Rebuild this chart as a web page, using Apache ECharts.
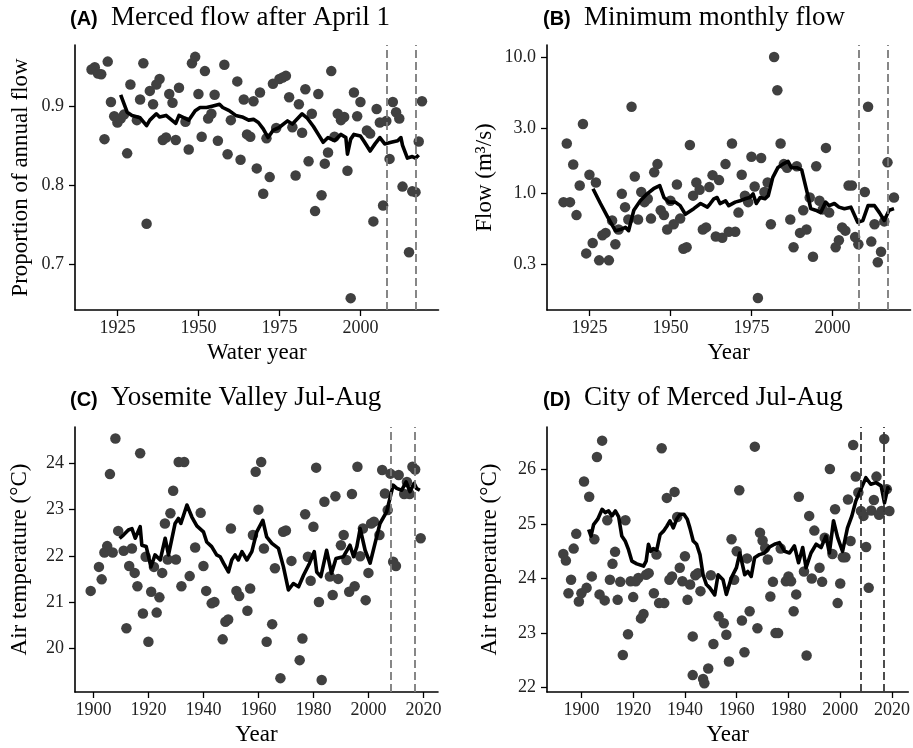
<!DOCTYPE html>
<html><head><meta charset="utf-8">
<script src="https://cdn.jsdelivr.net/npm/echarts@6/dist/echarts.min.js"></script>
<style>html,body{margin:0;padding:0;background:#fff}#c{width:913px;height:748px}</style>
</head><body><div id="c"></div>
<script>
// ---------- DATA ----------
// (A) proportion of annual flow after April 1: [water year, proportion]
const flowAfterApril = [[1917,0.946],[1918,0.949],[1919,0.941],[1920,0.940],[1921,0.858],[1922,0.956],[1923,0.905],[1924,0.887],[1925,0.879],[1926,0.884],[1927,0.889],[1928,0.840],[1929,0.927],[1931,0.882],[1932,0.908],[1933,0.954],[1934,0.751],[1935,0.919],[1936,0.902],[1937,0.927],[1938,0.934],[1939,0.857],[1940,0.860],[1941,0.915],[1942,0.904],[1943,0.857],[1944,0.923],[1946,0.880],[1947,0.845],[1948,0.954],[1949,0.962],[1950,0.915],[1951,0.861],[1952,0.944],[1953,0.884],[1954,0.890],[1955,0.914],[1956,0.856],[1958,0.952],[1959,0.839],[1960,0.882],[1962,0.931],[1963,0.832],[1964,0.908],[1965,0.864],[1966,0.861],[1967,0.906],[1968,0.821],[1969,0.917],[1970,0.789],[1971,0.859],[1972,0.810],[1973,0.928],[1974,0.872],[1975,0.934],[1976,0.936],[1977,0.938],[1978,0.911],[1979,0.873],[1980,0.812],[1981,0.902],[1982,0.866],[1983,0.921],[1984,0.830],[1985,0.890],[1986,0.767],[1987,0.915],[1988,0.787],[1989,0.827],[1990,0.841],[1991,0.944],[1992,0.861],[1993,0.890],[1994,0.882],[1995,0.886],[1996,0.818],[1997,0.657],[1998,0.917],[1999,0.887],[2000,0.905],[2002,0.869],[2003,0.865],[2004,0.754],[2005,0.896],[2006,0.879],[2007,0.774],[2008,0.881],[2009,0.833],[2010,0.905],[2011,0.892],[2012,0.884],[2013,0.798],[2015,0.715],[2016,0.792],[2017,0.791],[2018,0.855],[2019,0.906]];
const flowAfterAprilMean = [[1926,0.914],[1928,0.892],[1929.5,0.888],[1932,0.885],[1934,0.875],[1935,0.882],[1937,0.890],[1938,0.886],[1940,0.888],[1943,0.878],[1944,0.888],[1947,0.882],[1949,0.894],[1950.5,0.898],[1952.5,0.898],[1954.5,0.900],[1956.5,0.902],[1957.5,0.898],[1959.5,0.894],[1961.5,0.888],[1963.5,0.886],[1965.5,0.882],[1967,0.883],[1968.5,0.879],[1970,0.871],[1971.5,0.860],[1973,0.869],[1975,0.873],[1977.5,0.881],[1979,0.877],[1982,0.890],[1983.5,0.885],[1985.5,0.874],[1987,0.864],[1988.5,0.854],[1990,0.860],[1992,0.856],[1994,0.864],[1995.5,0.860],[1996,0.839],[1997,0.858],[1998,0.864],[2000,0.862],[2001,0.856],[2003,0.843],[2004.5,0.852],[2006,0.860],[2007.5,0.852],[2009.5,0.854],[2011.5,0.856],[2012.5,0.860],[2013,0.850],[2014.5,0.834],[2016,0.836],[2017,0.834],[2018,0.838]];

// (B) minimum monthly flow, m3/s: [year, flow]
const minFlow = [[1917,0.86],[1918,2.33],[1919,0.86],[1920,1.63],[1921,0.69],[1922,1.14],[1923,3.24],[1924,0.36],[1925,1.37],[1926,0.43],[1927,1.2],[1928,0.32],[1929,0.49],[1930,0.51],[1931,0.32],[1932,0.63],[1933,0.42],[1934,0.54],[1935,0.99],[1936,0.79],[1937,0.64],[1938,4.34],[1939,1.33],[1940,0.64],[1941,1.02],[1942,0.86],[1943,0.91],[1944,0.65],[1945,1.43],[1946,1.64],[1947,0.75],[1948,0.69],[1949,0.54],[1950,0.88],[1951,0.59],[1952,1.16],[1953,0.65],[1954,0.39],[1955,0.40],[1956,2.27],[1957,0.96],[1958,1.2],[1959,1.06],[1960,0.54],[1961,0.56],[1962,1.11],[1963,1.36],[1964,0.48],[1965,1.25],[1966,0.47],[1967,1.64],[1968,0.52],[1969,2.33],[1970,0.52],[1971,0.72],[1972,1.37],[1973,0.96],[1974,0.86],[1975,1.86],[1976,1.12],[1977,0.169],[1978,1.82],[1979,1.02],[1980,1.2],[1981,0.59],[1982,10.1],[1983,5.75],[1984,2.33],[1985,1.64],[1986,1.54],[1987,0.64],[1988,0.40],[1989,1.58],[1990,0.51],[1991,0.75],[1992,0.54],[1993,0.93],[1994,0.34],[1995,1.58],[1996,0.88],[1997,0.76],[1998,2.16],[1999,0.72],[2001,0.40],[2002,0.45],[2003,0.56],[2004,0.53],[2005,1.14],[2006,1.14],[2007,0.475],[2008,0.42],[2010,1.02],[2011,4.34],[2012,0.44],[2013,0.59],[2014,0.31],[2015,0.37],[2016,0.62],[2017,1.69],[2019,0.93]];
const minFlowMean = [[1926.1,1.08],[1928.4,0.84],[1930.6,0.67],[1933,0.53],[1934.6,0.54],[1936.1,0.56],[1937.1,0.53],[1938.7,0.75],[1940.7,0.88],[1942.8,0.99],[1944.8,1.08],[1946.7,1.14],[1948,0.93],[1949.5,0.86],[1951.5,0.86],[1953,0.81],[1954.6,0.70],[1957.2,0.77],[1959.3,0.84],[1961.4,0.79],[1962.3,0.84],[1963.4,0.91],[1964.4,0.93],[1965.3,0.84],[1967,0.88],[1968,0.81],[1970,0.86],[1971.5,0.88],[1973,0.91],[1974.5,0.93],[1975.5,0.99],[1976.5,0.84],[1977.7,0.93],[1979.2,0.91],[1980.2,0.96],[1981.6,1.31],[1983.2,1.55],[1984.7,1.64],[1986.3,1.72],[1987.3,1.55],[1989.2,1.54],[1990.5,1.49],[1992.3,0.99],[1993.3,0.77],[1994.8,0.75],[1996.4,0.72],[1997.9,0.86],[1999,0.81],[2000.6,0.84],[2002,0.79],[2003.7,0.77],[2005.7,0.79],[2007.8,0.61],[2009.4,0.63],[2011,0.81],[2013,0.81],[2014.5,0.72],[2016,0.63],[2017.5,0.75],[2019,0.77]];

// (C) Yosemite Valley Jul-Aug air temperature, °C: [year, temp]
const yosemiteTemp = [[1899,21.24],[1902,21.76],[1903,21.49],[1904,22.07],[1905,22.21],[1906,23.77],[1907,22.07],[1908,24.54],[1909,22.54],[1911,22.11],[1912,20.43],[1913,21.78],[1914,22.16],[1915,21.63],[1916,21.34],[1917,24.22],[1918,20.75],[1919,21.98],[1920,20.14],[1921,21.22],[1922,21.76],[1923,20.77],[1924,21.10],[1925,21.63],[1926,22.70],[1927,21.92],[1928,22.92],[1929,23.41],[1930,21.92],[1931,24.03],[1932,21.34],[1933,24.03],[1935,21.56],[1937,22.18],[1939,22.93],[1940,21.78],[1941,21.24],[1943,20.97],[1944,21.00],[1947,20.19],[1948,20.57],[1949,20.62],[1950,22.59],[1952,21.24],[1953,21.13],[1956,20.81],[1957,21.29],[1958,22.45],[1959,23.82],[1960,23.00],[1961,24.03],[1962,22.16],[1963,20.14],[1965,20.52],[1966,21.73],[1968,19.35],[1969,22.52],[1970,22.55],[1972,21.89],[1975,19.74],[1976,20.21],[1977,22.90],[1978,21.98],[1979,21.46],[1980,22.63],[1981,23.91],[1982,21.00],[1983,19.31],[1984,23.17],[1986,21.55],[1987,21.15],[1988,23.29],[1989,21.50],[1990,22.23],[1991,22.45],[1992,21.91],[1993,21.22],[1994,23.34],[1995,21.34],[1996,23.93],[1997,21.99],[1998,22.59],[1999,21.04],[2000,21.63],[2001,22.70],[2002,22.74],[2004,22.45],[2005,23.86],[2006,23.35],[2007,22.99],[2008,23.78],[2009,21.87],[2010,21.78],[2011,23.75],[2013,23.34],[2014,23.60],[2015,23.34],[2016,23.93],[2017,23.87],[2019,22.38]];
const yosemiteTempMean = [[1909.5,22.38],[1910.9,22.45],[1912.7,22.56],[1914,22.59],[1915.2,22.38],[1917,22.63],[1917.6,22.23],[1919.2,22.2],[1920.9,21.76],[1922.4,22.02],[1924.3,21.91],[1926.1,22.38],[1927.3,22.02],[1929.7,22.70],[1930.9,22.81],[1931.8,22.70],[1934,23.10],[1935.8,22.84],[1937.6,22.65],[1940,22.52],[1941.2,22.30],[1943,22.20],[1944.8,22.02],[1946.1,21.98],[1947.3,21.84],[1949.1,21.65],[1950.3,21.91],[1951.5,22.02],[1952.7,21.91],[1954,22.09],[1955.8,21.91],[1957.6,22.09],[1959.4,22.52],[1961.6,22.77],[1963,22.41],[1964.9,22.27],[1967.3,22.16],[1969.1,21.76],[1970.9,21.26],[1972.7,21.40],[1974.6,21.33],[1976.4,21.58],[1978.6,21.84],[1980.3,22.09],[1981.2,21.65],[1982.7,21.55],[1984.8,22.12],[1986.6,21.62],[1988.2,21.94],[1990.9,21.98],[1993.3,22.23],[1994.6,21.98],[1995.8,22.20],[1997,22.59],[1998.8,22.12],[2000.6,21.84],[2002.4,22.27],[2004.2,22.70],[2006.6,22.95],[2009,23.53],[2010.3,23.46],[2012.1,23.42],[2013.7,23.60],[2015.1,23.39],[2016.6,23.57],[2017.5,23.46],[2018.7,23.42]];

// (D) City of Merced Jul-Aug air temperature, °C: [year, temp]
const mercedTemp = [[1893,24.45],[1894,24.33],[1895,23.73],[1896,23.98],[1897,24.55],[1898,24.82],[1899,23.58],[1900,23.73],[1901,25.78],[1902,23.83],[1903,25.50],[1904,24.04],[1905,24.72],[1906,26.23],[1907,23.71],[1908,26.53],[1909,23.60],[1910,25.07],[1911,23.98],[1912,24.27],[1913,24.49],[1914,23.61],[1915,23.94],[1916,22.60],[1917,25.07],[1918,22.98],[1919,23.95],[1920,23.66],[1921,23.95],[1922,24.01],[1923,23.27],[1924,23.35],[1925,24.07],[1926,24.10],[1928,23.73],[1929,24.44],[1930,23.55],[1931,26.39],[1932,23.55],[1933,25.48],[1934,23.98],[1935,24.04],[1936,25.59],[1937,25.13],[1938,24.20],[1939,23.95],[1940,24.41],[1941,23.61],[1942,23.89],[1943,22.94],[1943,22.23],[1944,24.06],[1945,24.10],[1946,23.77],[1947,22.16],[1947.5,22.08],[1949,22.35],[1950,24.06],[1951,22.80],[1953,23.31],[1955,23.18],[1956,22.97],[1957,22.48],[1958,24.72],[1959,23.98],[1960,24.50],[1961,25.62],[1962,23.23],[1963,22.65],[1964,24.37],[1965,23.40],[1967,26.42],[1968,23.09],[1969,24.84],[1970,24.70],[1971,24.56],[1972,24.35],[1973,23.67],[1974,23.94],[1975,23.00],[1976,23.00],[1977,24.55],[1979,23.95],[1980,24.04],[1981,23.95],[1982,23.40],[1983,23.71],[1984,25.50],[1986,24.13],[1987,22.59],[1988,25.15],[1989,24.00],[1990,24.88],[1992,24.20],[1993,23.94],[1994,24.75],[1996,26.01],[1997,24.45],[1998,25.27],[1999,23.55],[2000,23.91],[2001,24.39],[2002,24.39],[2003,25.45],[2004,24.69],[2005,26.45],[2006,25.87],[2007,25.58],[2008,25.24],[2009,25.15],[2010,24.58],[2011,23.83],[2012,25.25],[2013,25.44],[2014,25.87],[2015,25.17],[2016,25.24],[2017,26.56],[2018,25.64],[2019,25.24]];
const mercedTempMean = [[1902.8,24.90],[1903.7,24.78],[1904.7,24.99],[1906.3,25.09],[1908,25.27],[1909.2,25.21],[1910.5,25.24],[1911.8,25.15],[1913.1,25.24],[1914.4,25.13],[1915.6,24.78],[1916.9,24.69],[1918.2,24.53],[1919.5,24.32],[1921.4,24.27],[1924,24.23],[1925,24.32],[1925.9,24.63],[1926.8,24.50],[1927.8,24.55],[1929.1,24.52],[1930.4,24.81],[1931.7,24.87],[1933,24.96],[1934.2,25.06],[1935.5,24.93],[1936.8,25.09],[1938.1,25.18],[1939.6,25.18],[1940.9,25.09],[1941.9,24.93],[1943.2,24.69],[1944.5,24.63],[1945.8,24.44],[1947,24.07],[1948.3,23.89],[1949.6,23.83],[1951.5,23.70],[1952.8,24.07],[1954.7,23.98],[1956,23.71],[1957.9,24.01],[1959.9,24.20],[1961.2,24.47],[1963.1,24.07],[1964.3,24.13],[1965.6,24.04],[1966.9,24.38],[1968.8,24.44],[1970.8,24.47],[1972.7,24.58],[1974.6,24.63],[1976.5,24.66],[1978.5,24.50],[1980.4,24.47],[1982.3,24.60],[1983.9,24.29],[1985.5,24.57],[1986.8,24.20],[1988.7,24.47],[1990.7,24.63],[1992.6,24.57],[1994.5,24.78],[1995.8,24.47],[1997.4,25.06],[1999,24.75],[2000.9,24.50],[2002.8,24.93],[2004.5,25.15],[2006,25.42],[2008,25.64],[2009.9,25.85],[2011.8,25.73],[2013.8,25.76],[2015.8,25.70],[2017.1,25.39],[2018.4,25.67],[2019,25.62]];

// reference years (dashed lines)
const markerYears = [2008, 2017];

// tick labels
const ticksXTop = [1925, 1950, 1975, 2000];
const ticksXBottom = [1900, 1920, 1940, 1960, 1980, 2000, 2020];
const ticksYA = [0.7, 0.8, 0.9];
const ticksYB = [0.3, 1.0, 3.0, 10.0];
const ticksYC = [20, 21, 22, 23, 24];
const ticksYD = [22, 23, 24, 25, 26];

const titles = [
  ['(A)', 'Merced flow after April 1'],
  ['(B)', 'Minimum monthly flow'],
  ['(C)', 'Yosemite Valley Jul-Aug'],
  ['(D)', 'City of Merced Jul-Aug']
];

// ---------- CHART ----------
const SERIF = "'Liberation Serif', 'Times New Roman', serif";
const SANS = "'Liberation Sans', Arial, sans-serif";
const log10 = v => Math.log10(v);

const grids = [
  {left: 75, top: 45, width: 363.5, height: 265},
  {left: 547, top: 45, width: 363.5, height: 265},
  {left: 75, top: 427, width: 363, height: 265},
  {left: 547, top: 427, width: 363, height: 265}
];

function xAxisCfg(i, min, max, ticks, name) {
  return {
    type: 'value', gridIndex: i, min: min, max: max,
    name: name, nameLocation: 'middle', nameGap: 31,
    nameTextStyle: {fontFamily: SERIF, fontSize: 23, color: '#000'},
    axisLine: {show: true, onZero: false, lineStyle: {color: '#000', width: 1.6}},
    axisTick: {show: true, length: 6, lineStyle: {color: '#000', width: 1.3}, customValues: ticks},
    axisLabel: {customValues: ticks, margin: 9, fontFamily: SERIF, fontSize: 18, color: '#222',
      formatter: v => String(v)},
    splitLine: {show: false}
  };
}
function yAxisCfg(i, min, max, ticks, name, gap, fmt) {
  return {
    type: 'value', gridIndex: i, min: min, max: max,
    name: name, nameLocation: 'middle', nameGap: gap,
    nameTextStyle: {fontFamily: SERIF, fontSize: 23, color: '#000'},
    axisLine: {show: true, onZero: false, lineStyle: {color: '#000', width: 1.6}},
    axisTick: {show: true, length: 6, lineStyle: {color: '#000', width: 1.3}, customValues: ticks},
    axisLabel: {customValues: ticks, margin: 11, fontFamily: SERIF, fontSize: 18, color: '#222', formatter: fmt},
    splitLine: {show: false}
  };
}

const xAxes = [
  xAxisCfg(0, 1911.9, 2024.1, ticksXTop, 'Water year'),
  xAxisCfg(1, 1911.9, 2024.1, ticksXTop, 'Year'),
  xAxisCfg(2, 1893.3, 2025.3, ticksXBottom, 'Year'),
  xAxisCfg(3, 1886.7, 2026.3, ticksXBottom, 'Year')
];
const yAxes = [
  yAxisCfg(0, 0.642, 0.977, ticksYA, 'Proportion of annual flow', 43, v => v.toFixed(1)),
  yAxisCfg(1, log10(0.1377), log10(12.4), ticksYB.map(log10), 'Flow (m³/s)', 51,
    v => Math.pow(10, v).toFixed(1)),
  yAxisCfg(2, 19.05, 24.79, ticksYC, 'Air temperature (°C)', 44, v => String(v)),
  yAxisCfg(3, 21.92, 26.78, ticksYD, 'Air temperature (°C)', 46, v => String(v))
];

const panels = [
  {pts: flowAfterApril, ma: flowAfterAprilMean, tf: v => v, dash: '#7a7a7a'},
  {pts: minFlow, ma: minFlowMean, tf: log10, dash: '#7a7a7a'},
  {pts: yosemiteTemp, ma: yosemiteTempMean, tf: v => v, dash: '#7a7a7a'},
  {pts: mercedTemp, ma: mercedTempMean, tf: v => v, dash: '#3a3a3a'}
];

const series = [];
panels.forEach((p, i) => {
  series.push({
    type: 'line', xAxisIndex: i, yAxisIndex: i, data: [], z: 1, silent: true,
    markLine: {
      silent: true, symbol: ['none', 'none'], label: {show: false},
      lineStyle: {color: p.dash, width: 1.8, type: [8, 4]},
      data: markerYears.map(y => ({xAxis: y}))
    }
  });
  series.push({
    type: 'scatter', xAxisIndex: i, yAxisIndex: i, z: 2,
    symbol: 'circle', symbolSize: 10.5,
    itemStyle: {color: '#404040', opacity: 1},
    data: p.pts.map(d => [d[0], p.tf(d[1])])
  });
  series.push({
    type: 'line', xAxisIndex: i, yAxisIndex: i, z: 3,
    showSymbol: false, symbol: 'none',
    lineStyle: {color: '#000', width: 3.6, join: 'round'},
    data: p.ma.map(d => [d[0], p.tf(d[1])])
  });
});

const titleBoxes = [];
const tpos = [[70, 0], [543, 0], [70, 380.6], [543, 380.6]];
titles.forEach((t, i) => {
  const [x, dy] = tpos[i];
  titleBoxes.push({
    text: t[0], left: x, top: 9.8 + dy, padding: 0,
    textStyle: {fontFamily: SANS, fontWeight: 'bold', fontSize: 20, lineHeight: 20, color: '#000'}
  });
  titleBoxes.push({
    text: t[1], left: x + 41, top: 4.1 + dy, padding: 0,
    textStyle: {fontFamily: SERIF, fontWeight: 'normal', fontSize: 27, lineHeight: 27, color: '#000'}
  });
});

const chart = echarts.init(document.getElementById('c'), null, {renderer: 'canvas'});
chart.setOption({
  animation: false,
  backgroundColor: '#fff',
  title: titleBoxes,
  grid: grids,
  xAxis: xAxes,
  yAxis: yAxes,
  series: series
});
</script>
</body></html>
